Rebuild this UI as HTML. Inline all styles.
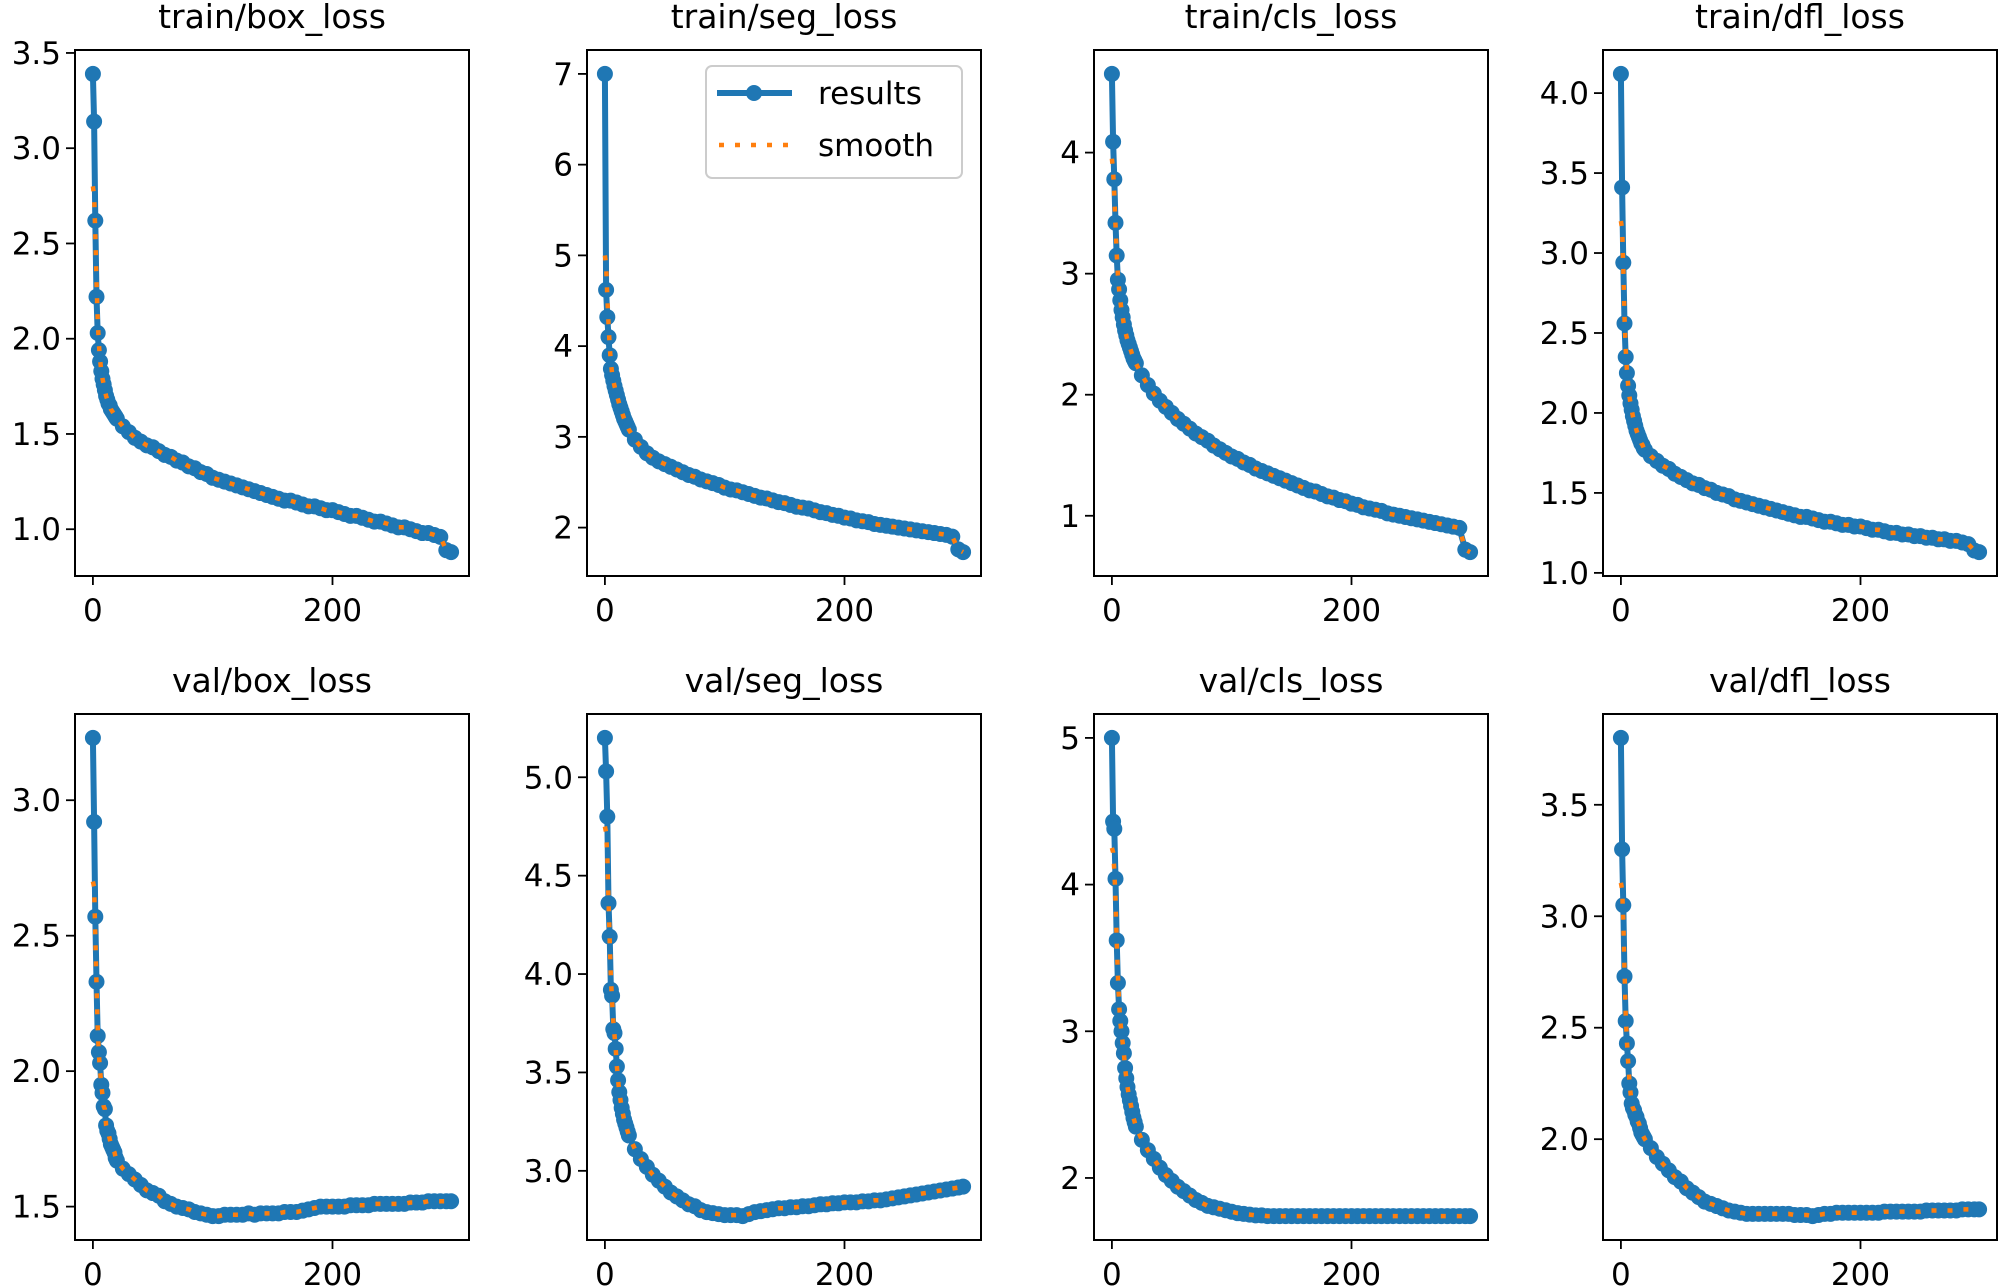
<!DOCTYPE html>
<html><head><meta charset="utf-8"><style>
html,body{margin:0;padding:0;background:#fff}
svg{display:block}
text{font-family:"DejaVu Sans","Liberation Sans",sans-serif;fill:#000}
</style></head><body>
<svg id="fig" width="2000" height="1288" viewBox="0 0 2000 1288" xmlns="http://www.w3.org/2000/svg"></svg>
<script>
const epochs = [0,1,2,3,4,5,6,7,8,9,10,11,12,13,14,15,16,17,18,19,20,25,30,35,40,45,50,55,60,65,70,75,80,85,90,95,100,105,110,115,120,125,130,135,140,145,150,155,160,165,170,175,180,185,190,195,200,205,210,215,220,225,230,235,240,245,250,255,260,265,270,275,280,285,290,295,299];
const titles = ["train/box_loss","train/seg_loss","train/cls_loss","train/dfl_loss","val/box_loss","val/seg_loss","val/cls_loss","val/dfl_loss"];
const trainBox = [3.39,3.14,2.62,2.22,2.03,1.94,1.88,1.83,1.79,1.76,1.73,1.70,1.68,1.66,1.65,1.63,1.62,1.61,1.60,1.59,1.58,1.54,1.51,1.48,1.46,1.44,1.43,1.41,1.39,1.38,1.36,1.35,1.33,1.32,1.30,1.29,1.27,1.26,1.25,1.24,1.23,1.22,1.21,1.20,1.19,1.18,1.17,1.16,1.15,1.15,1.14,1.13,1.12,1.12,1.11,1.10,1.10,1.09,1.08,1.07,1.07,1.06,1.05,1.04,1.04,1.03,1.02,1.01,1.01,1.00,0.99,0.98,0.98,0.97,0.96,0.89,0.88];
const trainSeg = [7.0,4.62,4.32,4.10,3.90,3.75,3.68,3.62,3.56,3.51,3.46,3.41,3.36,3.32,3.28,3.24,3.20,3.17,3.14,3.11,3.08,2.97,2.89,2.82,2.77,2.73,2.70,2.67,2.64,2.61,2.58,2.56,2.53,2.51,2.49,2.47,2.44,2.42,2.41,2.39,2.37,2.35,2.33,2.32,2.30,2.28,2.27,2.25,2.23,2.22,2.21,2.19,2.17,2.16,2.14,2.13,2.11,2.10,2.08,2.07,2.06,2.04,2.03,2.02,2.01,2.00,1.99,1.98,1.97,1.96,1.95,1.94,1.93,1.92,1.90,1.76,1.73];
const trainCls = [4.65,4.09,3.78,3.42,3.15,2.95,2.87,2.78,2.70,2.64,2.58,2.53,2.49,2.45,2.42,2.39,2.36,2.33,2.30,2.28,2.26,2.16,2.08,2.01,1.95,1.90,1.85,1.80,1.76,1.72,1.68,1.65,1.62,1.58,1.55,1.52,1.49,1.47,1.44,1.42,1.39,1.37,1.35,1.33,1.31,1.29,1.27,1.25,1.23,1.21,1.20,1.18,1.16,1.15,1.13,1.12,1.10,1.09,1.07,1.06,1.05,1.04,1.02,1.01,1.00,0.99,0.98,0.97,0.96,0.95,0.94,0.93,0.92,0.91,0.90,0.72,0.70];
const trainDfl = [4.12,3.41,2.94,2.56,2.35,2.25,2.17,2.11,2.06,2.02,1.98,1.95,1.92,1.89,1.87,1.85,1.83,1.81,1.80,1.78,1.77,1.73,1.70,1.67,1.65,1.62,1.60,1.58,1.56,1.55,1.53,1.52,1.50,1.49,1.48,1.46,1.45,1.44,1.43,1.42,1.41,1.40,1.39,1.38,1.37,1.36,1.35,1.35,1.34,1.33,1.32,1.32,1.31,1.30,1.30,1.29,1.29,1.28,1.27,1.27,1.26,1.25,1.25,1.24,1.24,1.23,1.23,1.22,1.22,1.21,1.21,1.20,1.20,1.19,1.18,1.14,1.13];
const valBox = [3.23,2.92,2.57,2.33,2.13,2.07,2.03,1.95,1.92,1.87,1.86,1.80,1.78,1.77,1.75,1.73,1.72,1.71,1.70,1.68,1.67,1.64,1.62,1.60,1.58,1.56,1.55,1.54,1.52,1.51,1.50,1.495,1.49,1.48,1.475,1.47,1.465,1.465,1.47,1.47,1.47,1.47,1.475,1.47,1.475,1.475,1.475,1.475,1.48,1.48,1.48,1.485,1.49,1.495,1.50,1.50,1.50,1.50,1.50,1.505,1.505,1.505,1.505,1.51,1.51,1.51,1.51,1.51,1.51,1.515,1.515,1.515,1.52,1.52,1.52,1.52,1.52];
const valSeg = [5.20,5.03,4.80,4.36,4.19,3.92,3.89,3.72,3.70,3.62,3.53,3.46,3.40,3.36,3.32,3.29,3.26,3.24,3.22,3.20,3.18,3.11,3.06,3.02,2.98,2.95,2.92,2.89,2.87,2.85,2.83,2.82,2.80,2.79,2.785,2.78,2.775,2.775,2.775,2.77,2.78,2.79,2.795,2.80,2.805,2.81,2.81,2.815,2.815,2.82,2.82,2.825,2.83,2.83,2.835,2.835,2.84,2.84,2.84,2.845,2.845,2.85,2.85,2.855,2.86,2.865,2.87,2.875,2.88,2.885,2.89,2.895,2.90,2.905,2.91,2.915,2.92];
const valCls = [5.0,4.43,4.38,4.04,3.62,3.33,3.15,3.07,3.00,2.92,2.85,2.75,2.68,2.62,2.57,2.53,2.49,2.45,2.41,2.38,2.35,2.26,2.19,2.13,2.07,2.02,1.98,1.94,1.91,1.88,1.85,1.83,1.81,1.80,1.79,1.78,1.77,1.76,1.755,1.75,1.745,1.745,1.74,1.74,1.74,1.74,1.74,1.74,1.74,1.74,1.74,1.74,1.74,1.74,1.74,1.74,1.74,1.74,1.74,1.74,1.74,1.74,1.74,1.74,1.74,1.74,1.74,1.74,1.74,1.74,1.74,1.74,1.74,1.74,1.74,1.74,1.74];
const valDfl = [3.80,3.30,3.05,2.73,2.53,2.43,2.35,2.25,2.21,2.16,2.14,2.13,2.11,2.10,2.08,2.07,2.05,2.03,2.02,2.01,2.00,1.96,1.92,1.89,1.86,1.83,1.81,1.78,1.76,1.74,1.72,1.71,1.70,1.69,1.68,1.675,1.67,1.665,1.665,1.665,1.665,1.665,1.665,1.665,1.665,1.66,1.66,1.66,1.655,1.66,1.665,1.665,1.67,1.67,1.67,1.67,1.67,1.67,1.67,1.67,1.675,1.675,1.675,1.675,1.675,1.675,1.675,1.68,1.68,1.68,1.68,1.68,1.68,1.685,1.685,1.685,1.685];
const smoothEarlyEpochs = [0,1,2,3,4,5,6,7,8];
const smoothBox = [2.80,2.75,2.55,2.30,2.10,1.97,1.89,1.83,1.79];
const smoothSeg = [5.00,4.90,4.55,4.25,4.00,3.82,3.70,3.62,3.56];
const smoothCls = [3.95,3.85,3.65,3.40,3.17,2.99,2.87,2.78,2.70];
const smoothDfl = [3.20,3.15,2.90,2.60,2.40,2.27,2.18,2.11,2.06];
const smoothVBox = [2.70,2.68,2.50,2.32,2.16,2.06,2.00,1.95,1.91];
const smoothVSeg = [4.75,4.72,4.60,4.38,4.17,3.98,3.86,3.76,3.69];
const smoothVCls = [4.25,4.22,4.10,3.90,3.62,3.38,3.19,3.07,2.99];
const smoothVDfl = [3.15,3.12,2.98,2.76,2.56,2.44,2.35,2.27,2.21];
const yTicks = [[1.0,1.5,2.0,2.5,3.0,3.5],[2,3,4,5,6,7],[1,2,3,4],[1.0,1.5,2.0,2.5,3.0,3.5,4.0],[1.5,2.0,2.5,3.0],[3.0,3.5,4.0,4.5,5.0],[2,3,4,5],[2.0,2.5,3.0,3.5]];
const yDecimals = [1,0,0,1,1,1,0,1];
const xTicks = [0,200];

const results = [trainBox,trainSeg,trainCls,trainDfl,valBox,valSeg,valCls,valDfl];
const smooths = [smoothBox,smoothSeg,smoothCls,smoothDfl,smoothVBox,smoothVSeg,smoothVCls,smoothVDfl];

const NS = "http://www.w3.org/2000/svg";
const fig = document.getElementById('fig');
function mk(tag, attrs, parent){const e=document.createElementNS(NS,tag);for(const k in attrs)e.setAttribute(k,attrs[k]);(parent||fig).appendChild(e);return e;}
const lefts=[75,587,1094,1603], W=394, tops=[50,714], H=526;
const slug = t => t.replace('/','-').replace('_','-');

for(let p=0;p<8;p++){
  const L=lefts[p%4], T=tops[Math.floor(p/4)], R=L+W, B=T+H;
  const ys=results[p];
  const x0=epochs[0], x1=epochs[epochs.length-1], xm=(x1-x0)*0.05;
  const xmin=x0-xm, xmax=x1+xm;
  let ymin=Math.min(...ys), ymax=Math.max(...ys); const ym=(ymax-ymin)*0.05; ymin-=ym; ymax+=ym;
  const X=v=>L+(v-xmin)/(xmax-xmin)*W;
  const Y=v=>B-(v-ymin)/(ymax-ymin)*H;
  const g=mk('g',{});
  
  
  const title=mk('text',{x:L+W/2,y:T-22,'font-size':33,'text-anchor':'middle'},g);
  title.textContent=titles[p];
  
  
  xTicks.forEach(v=>{
    const tk=mk('line',{x1:X(v),x2:X(v),y1:B,y2:B+9,stroke:'#000','stroke-width':1.8},g);
    
    
    const tl=mk('text',{x:X(v),y:B+45,'font-size':31,'text-anchor':'middle'},g);
    tl.textContent=String(v);
    
    
  });
  yTicks[p].forEach(v=>{
    const tk=mk('line',{x1:L-9,x2:L,y1:Y(v),y2:Y(v),stroke:'#000','stroke-width':1.8},g);
    
    
    const tl=mk('text',{x:L-14,y:Y(v)+11,'font-size':31,'text-anchor':'end'},g);
    tl.textContent=v.toFixed(yDecimals[p]);
    
    
  });
  const clipId='c'+p;
  const cp=mk('clipPath',{id:clipId},g); mk('rect',{x:L,y:T,width:W,height:H},cp);
  const pg=mk('g',{'clip-path':'url(#'+clipId+')'},g);
  const pts=epochs.map((e,i)=>X(e).toFixed(1)+','+Y(ys[i]).toFixed(1)).join(' ');
  const line=mk('polyline',{points:pts,fill:'none',stroke:'#1f77b4','stroke-width':6,'stroke-linejoin':'round'},pg);
  
  
  epochs.forEach((e,i)=>{
    const c=mk('circle',{cx:X(e),cy:Y(ys[i]),r:8,fill:'#1f77b4'},pg);
    
    
  });
  const sm=smooths[p];
  const sp=[];
  smoothEarlyEpochs.forEach((e,i)=>sp.push(X(e).toFixed(1)+','+Y(sm[i]).toFixed(1)));
  epochs.forEach((e,i)=>{ if(e>smoothEarlyEpochs[smoothEarlyEpochs.length-1]) sp.push(X(e).toFixed(1)+','+Y(ys[i]).toFixed(1)); });
  const sl=mk('polyline',{points:sp.join(' '),fill:'none',stroke:'#ff7f0e','stroke-width':4.5,'stroke-dasharray':'5,11'},pg);
  
  
  const fr=mk('rect',{x:L,y:T,width:W,height:H,fill:'none',stroke:'#000','stroke-width':2},g);
  
  
}
const lg=mk('g',{});


mk('rect',{x:706,y:66,width:256,height:112,rx:6,fill:'#fff','fill-opacity':0.8,stroke:'#cccccc','stroke-width':2},lg);
const le1=mk('line',{x1:717,x2:792,y1:93,y2:93,stroke:'#1f77b4','stroke-width':6},lg);


mk('circle',{cx:754,cy:93,r:8,fill:'#1f77b4'},lg);
const t1=mk('text',{x:818,y:104,'font-size':31},lg); t1.textContent='results';


const le2=mk('line',{x1:719,x2:792,y1:145,y2:145,stroke:'#ff7f0e','stroke-width':4.5,'stroke-dasharray':'5,11'},lg);


const t2=mk('text',{x:818,y:156,'font-size':31},lg); t2.textContent='smooth';


</script>
</body></html>
